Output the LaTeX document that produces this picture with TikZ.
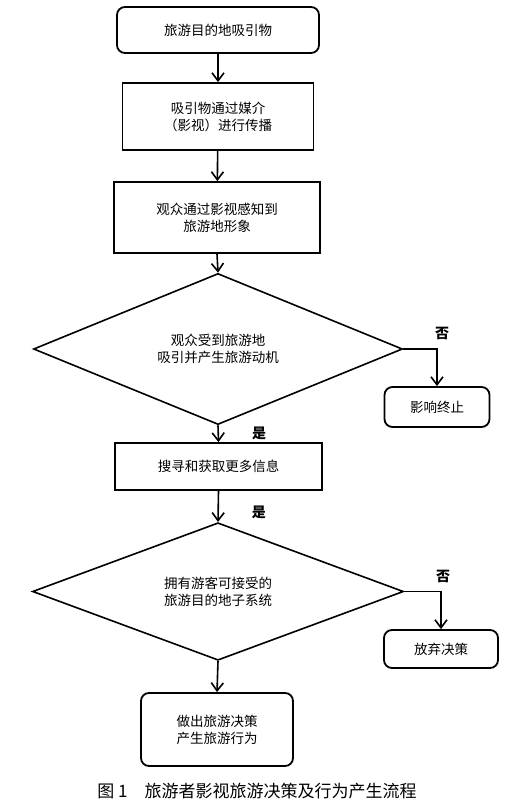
\documentclass[tikz,border=0pt]{standalone}
\usepackage{fontspec}
\setmainfont{Noto Sans CJK SC}
\usetikzlibrary{shapes.geometric,arrows.meta}

\begin{document}
\begin{tikzpicture}[x=1pt, y=-1pt, font=\fontsize{13.5}{17}\selectfont,
  >={Straight Barb[length=8pt, width=12pt]},
  box/.style={draw, line width=1.8pt, align=center, inner sep=0pt},
  rbox/.style={box, rounded corners=8pt},
  dec/.style={draw, diamond, line width=1.6pt, align=center, inner sep=0pt},
  flow/.style={->, line width=1.6pt},
  yn/.style={font=\fontsize{14}{16}\selectfont\bfseries, inner sep=0pt}]
\useasboundingbox (0,0) rectangle (527,808);
\node[rbox, minimum width=202pt, minimum height=46pt] (src) at (218,30) {旅游目的地吸引物};
\node[box, minimum width=191pt, minimum height=67pt] (media) at (218,116.5) {吸引物通过媒介\\（影视）进行传播};
\node[box, minimum width=206pt, minimum height=71pt] (percv) at (217,217.5) {观众通过影视感知到\\旅游地形象};
\node[dec, minimum width=369pt, minimum height=132pt] (dec1) at (218,349) {观众受到旅游地\\吸引并产生旅游动机};
\node[rbox, minimum width=105pt, minimum height=40pt] (stop) at (437,407) {影响终止};
\node[box, minimum width=207pt, minimum height=47pt] (search) at (218.5,466.5) {搜寻和获取更多信息};
\node[dec, minimum width=371pt, minimum height=133pt] (dec2) at (218,591.5) {拥有游客可接受的\\旅游目的地子系统};
\node[rbox, minimum width=114pt, minimum height=38pt] (quit) at (441,649) {放弃决策};
\node[rbox, minimum width=152pt, minimum height=73pt] (act) at (217,729.5) {做出旅游决策\\产生旅游行为};
\node[font=\fontsize{17}{20}\selectfont] (cap) at (257,791) {图 1\quad 旅游者影视旅游决策及行为产生流程};
\draw[flow] (src) -- (media);
\draw[flow] (media) -- (percv);
\draw[flow] (percv.south) -- (dec1.north);
\draw[flow] (dec1.east) -| node[yn, pos=0.5, above=8pt, xshift=5pt] {否} (stop.north);
\draw[flow] (dec1.south) -- node[yn, midway, right=33pt] {是} (search.north);
\draw[flow] (search.south) -- node[yn, pos=0.7, right=33pt] {是} (dec2.north);
\draw[flow] (dec2.east) -| node[yn, pos=0.5, above=8pt, xshift=2pt] {否} (quit.north);
\draw[flow] (dec2.south) -- (act.north);
\end{tikzpicture}
\end{document}
